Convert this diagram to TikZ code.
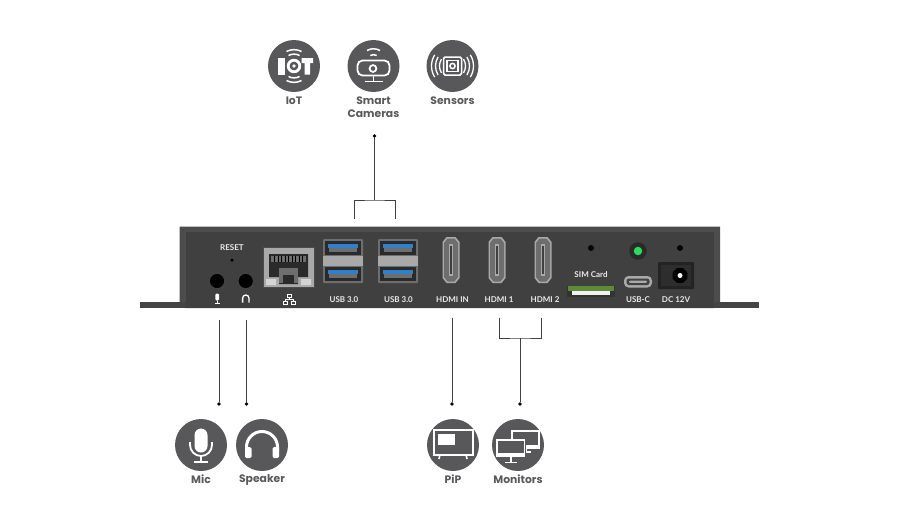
\documentclass[tikz,border=0pt]{standalone}
\usepackage{fontspec}
\usetikzlibrary{shapes.geometric}
\setmainfont{Poppins}
\newfontfamily\portfont{Lato}
\definecolor{badge}{HTML}{58585A}
\definecolor{caption}{HTML}{5A5A5C}
\definecolor{chassis}{HTML}{404040}
\definecolor{rim}{HTML}{4C4C4C}
\definecolor{flange}{HTML}{444444}
\definecolor{steel}{HTML}{A9A9A9}
\definecolor{steeldark}{HTML}{6E6E6E}
\definecolor{portdark}{HTML}{2A2A2A}
\definecolor{usbblue}{HTML}{2F7FD0}
\definecolor{led}{HTML}{22E05A}
\definecolor{simgreen}{HTML}{5E8C35}
\tikzset{
  x=1pt, y=-1pt,
  badgedisc/.style={circle, fill=badge, minimum size=52pt, inner sep=0pt, outer sep=0pt},
  captiontext/.style={text=caption, font=\bfseries\fontsize{10.8}{13}\selectfont, align=center, inner sep=0pt},
  porttext/.style={text=white!92!black, font=\portfont\bfseries\fontsize{8}{9}\selectfont, inner sep=0pt},
  lead/.style={draw=black!75, line width=0.7pt},
  leaddot/.style={circle, fill=black, minimum size=3.8pt, inner sep=0pt, outer sep=0pt},
  icon/.style={draw=white, line width=1.8pt, fill=none},
  iconfill/.style={fill=white, draw=none},
}
\newcommand{\hdmishape}[1]{%
  \begin{scope}[shift={(#1,260)}]
    \path[fill=steel] (-4.5,-23) -- (4.5,-23) -- (8.5,-18) -- (8.5,18) -- (4.5,23) -- (-4.5,23) -- (-8.5,18) -- (-8.5,-18) -- cycle;
    \path[fill=steeldark] (-3.5,-21.5) -- (3.5,-21.5) -- (7,-17) -- (7,17) -- (3.5,21.5) -- (-3.5,21.5) -- (-7,17) -- (-7,-17) -- cycle;
    \path[fill=steel] (-2,-16) rectangle (2,16);
    \path[fill=chassis] (-0.8,-14) rectangle (0.8,14);
  \end{scope}}
\newcommand{\usbstack}[1]{%
  \begin{scope}[shift={(#1,239)}]
    \path[fill=steeldark, rounded corners=1pt] (0,0) rectangle (40,44);
    \path[fill=portdark] (2,2) rectangle (38,16);
    \path[fill=usbblue] (5,4.5) rectangle (35,9);
    \path[fill=steeldark] (6,9) rectangle (34,13);
    \path[fill=steel] (0,17) rectangle (40,27);
    \path[fill=portdark] (2,28) rectangle (38,42);
    \path[fill=usbblue] (5,30.5) rectangle (35,35);
    \path[fill=steeldark] (6,35) rectangle (34,39);
  \end{scope}}
\begin{document}
\begin{tikzpicture}
\useasboundingbox (0,0) rectangle (900,509);
\path[fill=white] (0,0) rectangle (900,509);

% Mounting flanges and chassis
\path[fill=flange] (140,302) rectangle (186,308);
\path[fill=flange] (714,302) rectangle (759,308);
\path[fill=rim] (179.5,226.5) rectangle (720,302) (186,302) rectangle (714,308);
\path[fill=chassis] (185.5,232) rectangle (714,308);

% Audio jacks and reset pinhole
\foreach \jx/\jn in {217/jackmic, 245.7/jackspk} {
  \node[circle, fill=black, draw=steeldark!60!black, line width=1.6pt, minimum size=16pt, inner sep=0pt] (\jn) at (\jx,281) {};
}
\node[circle, fill=black, minimum size=3.5pt, inner sep=0pt] (resetpin) at (232,260) {};
\node[porttext] (resetlabel) at (232,247.5) {RESET};

% Small glyphs under the audio jacks
\path[iconfill, rounded corners=1.2pt] (215.4,293.5) rectangle (219,300.5);
\path[iconfill] (216.8,300.5) rectangle (217.6,303.2);
\path[iconfill] (214.8,303) rectangle (219.6,303.9);
\draw[white, line width=1.3pt] (242.6,302.5) -- (242.6,298.2) arc[start angle=180, end angle=360, radius=3.2] -- (249,302.5);

% Network socket
\path[fill=steel, draw=black!70, line width=0.6pt] (263,247) rectangle (314,287);
\path[fill=portdark] (269,254) rectangle (308,277) (279,277) rectangle (298,284);
\path[fill=steeldark] (271,256) rectangle (306,262);
\foreach \px in {274,277.5,...,303} { \path[fill=black] (\px,256) rectangle (\px+1,262); }
\path[fill=steeldark] (279,268) rectangle (298,283);
\path[fill=portdark] (283,275) rectangle (294,283);
\path[fill=white!50!steel] (266,279) rectangle (276,285) (301,279) rectangle (311,285);
% Network glyph
\draw[white, line width=0.8pt] (287,294.5) rectangle (291,297.5)
  (283,301) rectangle (287,304) (291,301) rectangle (295,304)
  (289,297.5) -- (289,299.2) (285,301) -- (285,299.2) -- (293,299.2) -- (293,301);

% USB, HDMI
\usbstack{323}
\usbstack{378}
\hdmishape{451}
\hdmishape{497}
\hdmishape{543}
\node[porttext] (usbleft) at (344,299.5) {USB 3.0};
\node[porttext] (usbright) at (398.5,299.5) {USB 3.0};
\node[porttext] (hdmiin) at (452.5,299.5) {HDMI IN};
\node[porttext] (hdmione) at (499,299.5) {HDMI 1};
\node[porttext] (hdmitwo) at (545,299.5) {HDMI 2};

% SIM slot
\node[circle, fill=black, minimum size=6pt, inner sep=0pt] (simdot) at (591,248) {};
\node[porttext] (simlabel) at (591,275) {SIM Card};
\path[fill=black!80] (567,286) rectangle (615,297);
\path[fill=simgreen] (568,286) rectangle (614,290.5);
\path[fill=white!85!steel] (572,291) rectangle (610,295);

% Status LED, USB-C, DC jack
\node[circle, fill=portdark, minimum size=17.5pt, inner sep=0pt] (ledring) at (638,251) {};
\node[circle, fill=led, minimum size=8.5pt, inner sep=0pt] (ledlamp) at (638,251) {};
\path[fill=steel, rounded corners=4.5pt] (624,276) rectangle (652,287.5);
\path[fill=steeldark!60!black, rounded corners=2.5pt] (626.5,278.5) rectangle (649.5,285);
\path[fill=steel, rounded corners=1pt] (629,280.7) rectangle (647,282.8);
\node[porttext] (usbclabel) at (638,299.5) {USB-C};
\node[circle, fill=black, minimum size=6pt, inner sep=0pt] (dcdot) at (680,248) {};
\path[fill=black!45!chassis, rounded corners=1pt] (658,262) rectangle (694,289);
\path[fill=chassis!70!black] (661,265) rectangle (691,286);
\node[regular polygon, regular polygon sides=8, fill=black, minimum size=16pt, inner sep=0pt] (dcbarrel) at (680,275.5) {};
\node[circle, fill=white, minimum size=5pt, inner sep=0pt] (dcpin) at (680,275.5) {};
\node[porttext] (dclabel) at (676,299.5) {DC 12V};

% Badges above the unit
\node[badgedisc] (iot) at (294,66) {};
\node[badgedisc] (cameras) at (373.5,66) {};
\node[badgedisc] (sensors) at (452.5,66) {};
\node[captiontext] (iotlabel) at (294,100.5) {IoT};
\node[captiontext] (cameraslabel) at (373.5,107) {Smart\\Cameras};
\node[captiontext] (sensorslabel) at (452.5,100.5) {Sensors};

% Badges below the unit
\node[badgedisc] (mic) at (201,445) {};
\node[badgedisc] (speaker) at (262,445) {};
\node[badgedisc] (pip) at (453,445) {};
\node[badgedisc] (monitors) at (518,445) {};
\node[captiontext] (miclabel) at (201,479.5) {Mic};
\node[captiontext] (speakerlabel) at (262,479.5) {Speaker};
\node[captiontext] (piplabel) at (453,479.5) {PiP};
\node[captiontext] (monitorslabel) at (518,479.5) {Monitors};

% IoT icon
\begin{scope}[shift={(iot)}]
  \path[iconfill] (-16,-8) rectangle (-9,8.5);
  \path[iconfill] (7.5,-8) rectangle (19,-3) (10.5,-3) rectangle (16,8.5);
  \draw[icon, line width=2.8pt] (0,0) circle[radius=5.8];
  \path[iconfill] (0,0) circle[radius=1.8];
  \draw[icon, line width=1.5pt] (-5.5,-10.5) arc[start angle=-118, end angle=-62, radius=11.8];
  \draw[icon, line width=1.5pt] (-7.5,-14.5) arc[start angle=-118, end angle=-62, radius=16];
  \draw[icon, line width=1.5pt] (-5.5,10.5) arc[start angle=118, end angle=62, radius=11.8];
  \draw[icon, line width=1.5pt] (-7.5,14.5) arc[start angle=118, end angle=62, radius=16];
\end{scope}

% Camera icon
\begin{scope}[shift={(cameras)}]
  \draw[icon, rounded corners=5pt] (-16,-5.5) rectangle (16,9.5);
  \draw[icon] (-0.5,2.5) circle[radius=3.4];
  \draw[icon, line width=1.5pt] (0,9.5) -- (0,14.5) (-9,15.5) -- (9,15.5);
  \draw[icon, line width=1.5pt] (-6.5,-15.5) arc[start angle=-120, end angle=-60, radius=13];
  \draw[icon, line width=1.5pt] (-3.2,-10.5) arc[start angle=-120, end angle=-60, radius=6.4];
\end{scope}

% Sensor icon
\begin{scope}[shift={(sensors)}]
  \draw[icon, line width=1.5pt, rounded corners=1.5pt] (-9,-9) rectangle (9,9);
  \draw[icon, line width=1.5pt] (-5.5,-5.5) rectangle (5.5,5.5);
  \draw[icon, line width=1.5pt] (0,0) circle[radius=2.6];
  \foreach \rr in {13,17,21} {
    \draw[icon, line width=1.3pt] (32:\rr) arc[start angle=32, end angle=-32, radius=\rr];
    \draw[icon, line width=1.3pt] (148:\rr) arc[start angle=148, end angle=212, radius=\rr];
  }
\end{scope}

% Microphone icon
\begin{scope}[shift={(mic)}]
  \path[iconfill] (-6.5,-10) arc[start angle=180, end angle=360, radius=6.5] -- (6.5,1) arc[start angle=0, end angle=180, radius=6.5] -- cycle;
  \draw[icon] (-11,-3) -- (-11,0) arc[start angle=180, end angle=0, radius=11] -- (11,-3);
  \draw[icon] (0,11) -- (0,17) (-7,17) -- (7,17);
\end{scope}

% Headphone icon
\begin{scope}[shift={(speaker)}]
  \draw[icon, line width=3pt] (-15.5,6) -- (-15.5,2) arc[start angle=180, end angle=360, radius=15.5] -- (15.5,6);
  \path[iconfill, rounded corners=1.5pt] (-17,2) rectangle (-10.5,13) (10.5,2) rectangle (17,13);
\end{scope}

% Picture-in-picture icon
\begin{scope}[shift={(pip)}]
  \draw[icon, line width=2pt] (-19.5,-15) rectangle (19.5,9.5);
  \path[iconfill] (-15.5,-11.5) rectangle (2,0);
  \draw[icon, line width=1.6pt] (-13,9.5) -- (-14,14) (13,9.5) -- (14,14);
\end{scope}

% Monitor pair icon
\begin{scope}[shift={(monitors)}]
  \draw[icon, line width=1.5pt] (-6,-14) rectangle (21,3);
  \path[iconfill] (6,0) rectangle (21,3);
  \draw[icon, line width=1.5pt] (8,3) -- (8,7) -- (13,7);
  \path[fill=badge] (-22,-6) rectangle (7.5,13);
  \draw[icon, line width=1.5pt] (-21,-5) rectangle (6.5,11.5);
  \path[iconfill] (-21,8) rectangle (6.5,11.5);
  \draw[icon, line width=1.5pt] (-7,11.5) -- (-7,17) (-13,17.5) -- (-1,17.5);
\end{scope}

% Connector ends at the unit
\coordinate (micport) at (219,320);
\coordinate (spkport) at (246.5,320);
\coordinate (pipport) at (452,318);
\coordinate (hdmileft) at (499,318);
\coordinate (hdmiright) at (541,318);
\coordinate (usbleftport) at (354,219);
\coordinate (usbrightport) at (395,219);
\coordinate (usbjoin) at (374.5,200);
\coordinate (hdmijoin) at (520,338);

% Terminal dots
\node[leaddot] (camdot) at (374.5,136) {};
\node[leaddot] (micdot) at (219,404) {};
\node[leaddot] (spkdot) at (246.5,404) {};
\node[leaddot] (pipdot) at (452,404) {};
\node[leaddot] (mondot) at (520,404) {};

% Leads
\draw[lead] (micport) -- (micdot);
\draw[lead] (spkport) -- (spkdot);
\draw[lead] (pipport) -- (pipdot);
\draw[lead] (camdot) -- (usbjoin);
\draw[lead] (usbleftport) |- (usbjoin) -| (usbrightport);
\draw[lead] (hdmileft) |- (hdmijoin) -| (hdmiright);
\draw[lead] (hdmijoin) -- (mondot);
\end{tikzpicture}
\end{document}
